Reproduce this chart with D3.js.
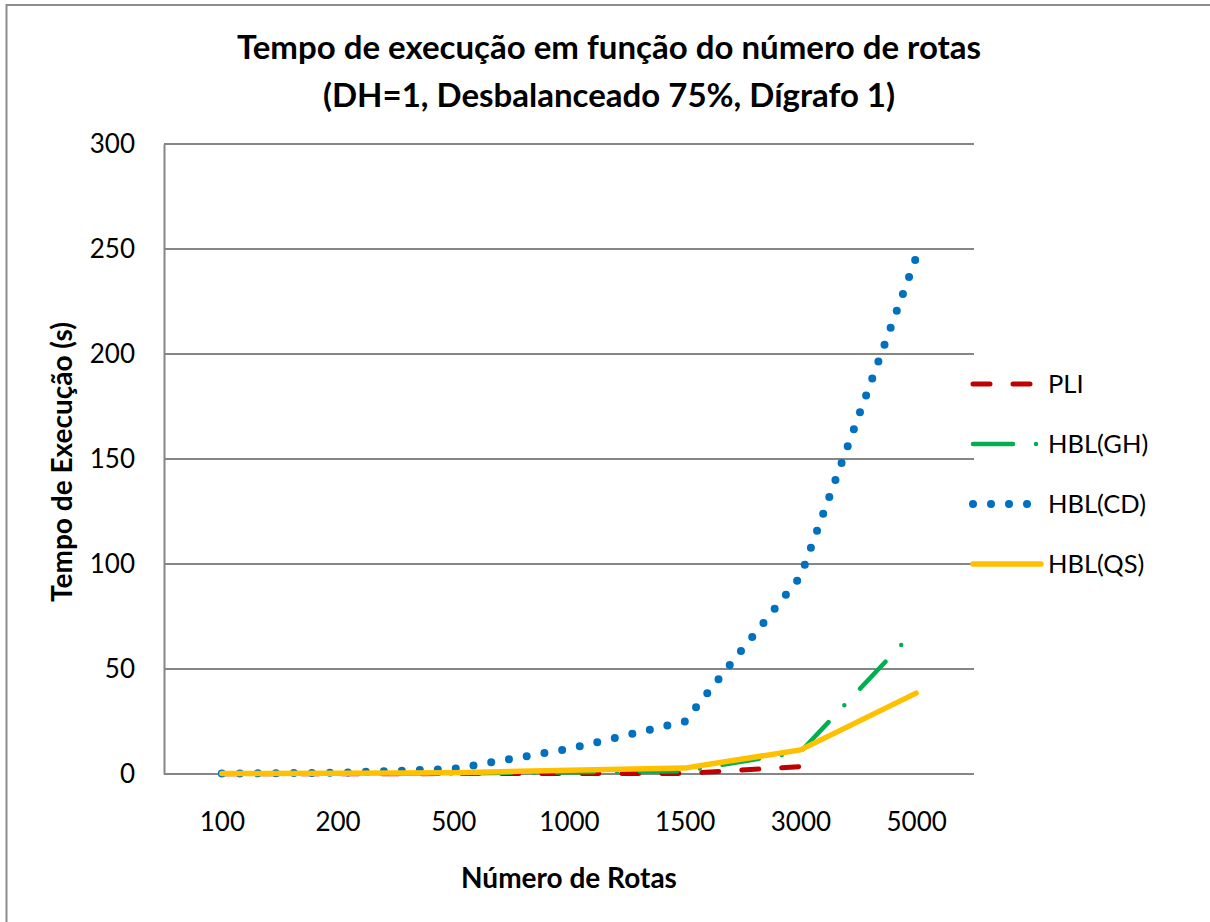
<!DOCTYPE html>
<html>
<head>
<meta charset="utf-8">
<script src="https://cdn.jsdelivr.net/npm/d3@7"></script>
<style>
  html, body { margin: 0; padding: 0; background: #fff; }
  svg { display: block; }
  text { font-family: Lato, "Open Sans", "DejaVu Sans", sans-serif; fill: #000; }
</style>
</head>
<body>
<svg id="chart" width="1210" height="922"></svg>
<script>
// Número de rotas (categorias do eixo X)
const categories = ["100", "200", "500", "1000", "1500", "3000", "5000"];

// Tempo de execução (s) por método
const pli   = [0.1, 0.1, 0.2, 0.2, 0.3, 3.5, null];
const hblGH = [0.1, 0.1, 0.3, 0.8, 1.4, 10.5, 69];
const hblCD = [0.2, 0.6, 2.4, 12, 25, 94, 246];
const hblQS = [0.2, 0.3, 0.6, 1.8, 2.8, 11.5, 38.5];

const yTicks = [0, 50, 100, 150, 200, 250, 300];

const titleLines = [
  "Tempo de execução em função do número de rotas",
  "(DH=1, Desbalanceado 75%, Dígrafo 1)"
];

const series = [
  { name: "PLI",     values: pli,   color: "#C00000", width: 5,   dash: "17 23",       cap: "round" },
  { name: "HBL(GH)", values: hblGH, color: "#00B050", width: 4.5, dash: "37 23 0 23",  cap: "round" },
  { name: "HBL(CD)", values: hblCD, color: "#0070C0", width: 8,   dash: "0 18",        cap: "round" },
  { name: "HBL(QS)", values: hblQS, color: "#FFC000", width: 5.5, dash: null,          cap: "round" }
];

const svg = d3.select("#chart");
const plot = { left: 164, right: 974, top: 144, bottom: 774 };

// Moldura do gráfico
svg.append("rect")
  .attr("x", 6.5).attr("y", 5)
  .attr("width", 1220).attr("height", 930)
  .attr("fill", "none")
  .attr("stroke", "#8c8c8c")
  .attr("stroke-width", 2);

const x = d3.scalePoint()
  .domain(categories)
  .range([plot.left, plot.right])
  .padding(0.5);

const y = d3.scaleLinear()
  .domain([0, 300])
  .range([plot.bottom, plot.top]);

// Linhas de grade horizontais
svg.append("g")
  .selectAll("line")
  .data(yTicks)
  .join("line")
  .attr("x1", plot.left).attr("x2", plot.right)
  .attr("y1", d => y(d)).attr("y2", d => y(d))
  .attr("stroke", "#868686")
  .attr("stroke-width", 2);

// Eixo Y
const yAxis = svg.append("g")
  .attr("transform", `translate(${plot.left},0)`)
  .call(d3.axisLeft(y).tickValues(yTicks).tickSize(0).tickPadding(29));
yAxis.select(".domain").attr("stroke", "#868686").attr("stroke-width", 2);
yAxis.selectAll("text")
  .style("font-family", "Lato, sans-serif")
  .style("font-size", "26px")
  .attr("fill", "#000");

// Eixo X (apenas rótulos)
const xAxis = svg.append("g")
  .attr("transform", `translate(0,${plot.bottom})`)
  .call(d3.axisBottom(x).tickSize(0).tickPadding(39));
xAxis.select(".domain").remove();
xAxis.selectAll("text")
  .style("font-family", "Lato, sans-serif")
  .style("font-size", "26px")
  .attr("fill", "#000");

// Séries
const line = d3.line()
  .defined(d => d.v !== null)
  .x(d => x(d.c))
  .y(d => y(d.v));

const toPoints = s => s.values.map((v, i) => ({ c: categories[i], v }));

const paths = svg.append("g")
  .selectAll("path")
  .data(series)
  .join("path")
  .attr("d", s => line(toPoints(s)))
  .attr("fill", "none")
  .attr("stroke", s => s.color)
  .attr("stroke-width", s => s.width)
  .attr("stroke-dasharray", s => s.dash)
  .attr("stroke-linecap", s => s.cap)
  .attr("stroke-linejoin", "round");

// Fase do traço-ponto da HBL(GH): alinha o padrão a partir do ponto 3000
(function () {
  const gh = series[1];
  const pts = toPoints(gh).slice(0, 6);
  const tmp = svg.append("path").attr("d", line(pts));
  const len = tmp.node().getTotalLength();
  tmp.remove();
  const period = gh.dash.split(" ").map(Number).reduce((a, b) => a + b, 0);
  const offset = ((60 - (len + 64)) % period + period) % period;
  paths.filter(s => s === gh).attr("stroke-dashoffset", offset);
})();

// Legenda
const legend = svg.append("g")
  .selectAll("g")
  .data(series)
  .join("g")
  .attr("transform", (s, i) => `translate(973,${384 + i * 60})`);

legend.append("path")
  .attr("d", "M0,0H68")
  .attr("fill", "none")
  .attr("stroke", s => s.color)
  .attr("stroke-width", s => s.width)
  .attr("stroke-dasharray", s => s.name === "HBL(GH)" ? "40 23 0 23" : s.dash)
  .attr("stroke-linecap", s => s.cap);

legend.append("text")
  .attr("x", 75)
  .attr("dy", "0.35em")
  .style("font-size", "25.5px")
  .text(s => s.name);

// Título
svg.append("text")
  .attr("text-anchor", "middle")
  .style("font-size", "33px")
  .style("font-weight", "bold")
  .selectAll("tspan")
  .data(titleLines)
  .join("tspan")
  .attr("x", 609)
  .attr("y", (d, i) => 59 + i * 48)
  .text(d => d);

// Títulos dos eixos
svg.append("text")
  .attr("x", 569)
  .attr("y", 888)
  .attr("text-anchor", "middle")
  .style("font-size", "28px")
  .style("font-weight", "bold")
  .text("Número de Rotas");

svg.append("text")
  .attr("transform", "translate(72,462) rotate(-90)")
  .attr("text-anchor", "middle")
  .style("font-size", "28px")
  .style("font-weight", "bold")
  .text("Tempo de Execução (s)");
</script>
</body>
</html>
